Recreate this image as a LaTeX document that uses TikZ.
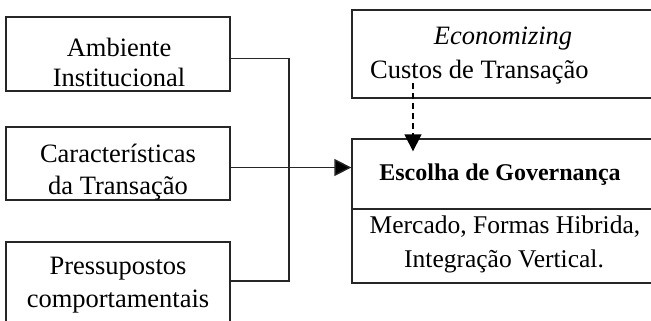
\documentclass[tikz,border=0pt]{standalone}
\usepackage{fontspec}
\setmainfont{Liberation Serif}
\usetikzlibrary{arrows.meta,calc}
\definecolor{linec}{gray}{0.15}
\begin{document}
\begin{tikzpicture}[x=1pt,y=-1pt,
  box/.style={draw=linec, line width=1.3pt, inner sep=0pt, minimum width=224pt},
  rbox/.style={draw=linec, line width=1.3pt, inner sep=0pt, minimum width=303pt},
  txt/.style={inner sep=0pt, anchor=base, font=\fontsize{26.5}{30}\selectfont},
  conn/.style={draw=linec, line width=1.4pt},
  tip/.style={-{Triangle[length=17pt,width=17pt,fill=black]}}]
\useasboundingbox (0,0) rectangle (651,321);
\clip (0,0) rectangle (651,321);
% left boxes
\node[box, minimum height=74pt] (amb) at (118,54) {};
\node[box, minimum height=73pt] (car) at (118,163.5) {};
\node[box, minimum height=96pt] (pre) at (118,290) {};
% right boxes
\node[rbox, minimum height=88pt] (eco) at (503.5,54) {};
\node[rbox, minimum height=70pt] (gov) at (503.5,174) {};
\node[rbox, minimum height=74pt] (govt) at (503.5,246) {};
% texts
\node[txt] (t1a) at (119,57) {Ambiente};
\node[txt] (t1b) at (119,86) {Institucional};
\node[txt] (t2a) at (118,162) {Características};
\node[txt] (t2b) at (118,194) {da Transação};
\node[txt] (t3a) at (118,274) {Pressupostos};
\node[txt] (t3b) at (118,307) {comportamentais};
\node[txt] (t4a) at (503,45) {\itshape Economizing};
\node[txt, anchor=base west] (t4b) at (370,78) {Custos de Transação};
\node[txt, font=\fontsize{24}{28}\selectfont\bfseries] (t5) at (500,180) {Escolha de Governança};
\node[txt, font=\fontsize{25.5}{30}\selectfont] (t6a) at (505,233) {Mercado, Formas Hibrida,};
\node[txt, font=\fontsize{25.5}{30}\selectfont] (t6b) at (504,267) {Integração Vertical.};
% connectors
\coordinate (j) at (289,167.5);
\draw[conn] ([yshift=-4.5pt]amb.east) -| (j);
\draw[conn] ([yshift=9pt]pre.east) -| (j);
\draw[conn, tip] ([yshift=-4pt]car.east) -- (gov.west |- j);
\coordinate (ds) at (413,83);
\draw[conn, draw=black, dash pattern=on 6pt off 4pt, tip] (ds) -- ([yshift=-13pt]ds |- gov.north);
\end{tikzpicture}
\end{document}
